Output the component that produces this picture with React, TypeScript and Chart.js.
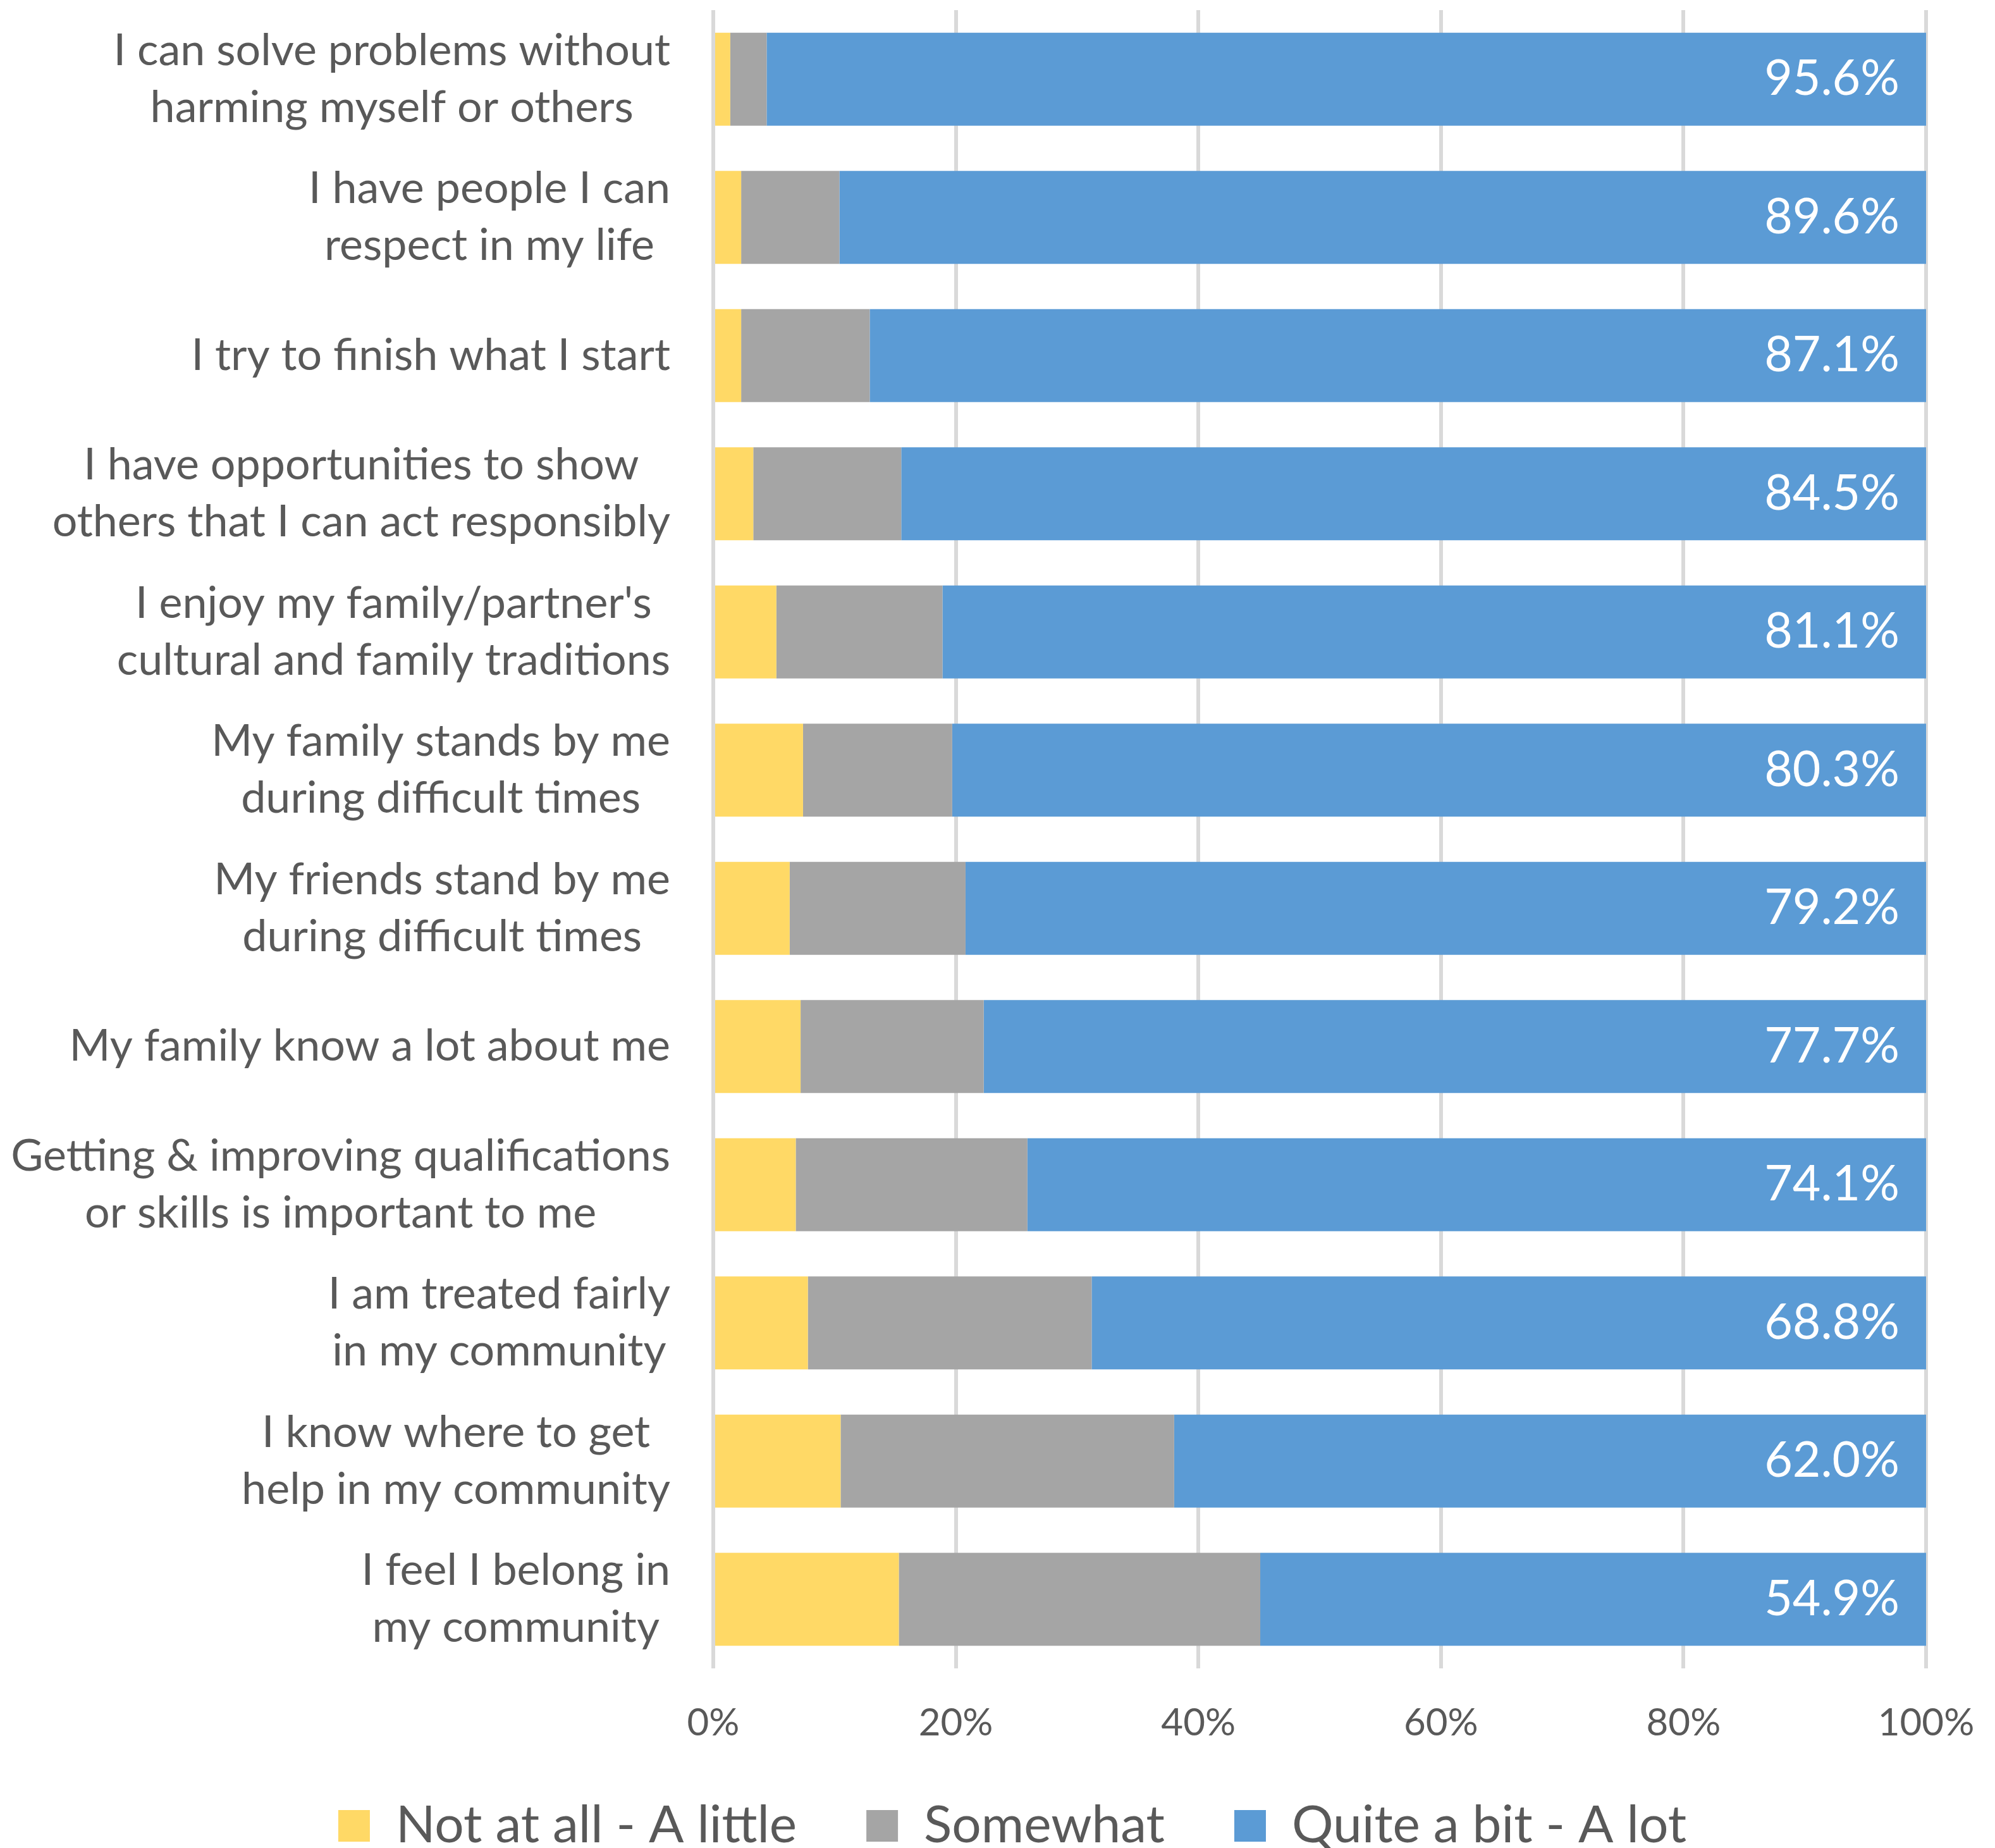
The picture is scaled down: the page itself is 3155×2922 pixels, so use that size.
import React, { useEffect, useRef } from 'react';
import { Chart, registerables } from 'chart.js';

Chart.register(...registerables);

const categories: string[][] = [
  ['I can solve problems without', 'harming myself or others'],
  ['I have people I can', 'respect in my life'],
  ['I try to finish what I start'],
  ['I have opportunities to show', 'others that I can act responsibly'],
  ["I enjoy my family/partner's", 'cultural and family traditions'],
  ['My family stands by me', 'during difficult times'],
  ['My friends stand by me', 'during difficult times'],
  ['My family know a lot about me'],
  ['Getting & improving qualifications', 'or skills is important to me'],
  ['I am treated fairly', 'in my community'],
  ['I know where to get', 'help in my community'],
  ['I feel I belong in', 'my community'],
];

const notAtAll = [1.4, 2.3, 2.3, 3.3, 5.2, 7.4, 6.3, 7.2, 6.8, 7.8, 10.5, 15.3];
const somewhat = [3.0, 8.1, 10.6, 12.2, 13.7, 12.3, 14.5, 15.1, 19.1, 23.4, 27.5, 29.8];
const quiteABit = [95.6, 89.6, 87.1, 84.5, 81.1, 80.3, 79.2, 77.7, 74.1, 68.8, 62.0, 54.9];

const seriesNames = ['Not at all - A little', 'Somewhat', 'Quite a bit - A lot'];
const seriesColors = ['#FFD966', '#A5A5A5', '#5B9BD5'];
const xTicks = [0, 20, 40, 60, 80, 100];

const FONT = 'Lato';
const TEXT_COLOR = '#595959';
const LABEL_SIZE = 70;
const VALUE_SIZE = 77;
const TICK_SIZE = 60;
const LEGEND_SIZE = 82;
const LEGEND_PAD = 110;

const W = 3155;
const H = 2922;
const PAD_LEFT = 156;
const PAD_RIGHT = 109;
const PAD_TOP = 16;
const PLOT_LEFT = 1128;
const PLOT_BOTTOM = 2638;
const TICK_CENTER_Y = 2725;
const LEGEND_CENTER_Y = 2887;
const LEGEND_H = H - LEGEND_CENTER_Y + LEGEND_PAD + LEGEND_SIZE / 2;
const TICK_LINE_H = TICK_SIZE * 1.2;

const categoryLabelPlugin = {
  id: 'categoryLabels',
  afterDraw(chart: any) {
    const yScale = chart.scales.y;
    const ctx = chart.ctx as CanvasRenderingContext2D;
    ctx.save();
    ctx.font = `${LABEL_SIZE}px ${FONT}`;
    ctx.fillStyle = TEXT_COLOR;
    ctx.textAlign = 'center';
    ctx.textBaseline = 'middle';
    const right = chart.chartArea.left - 68;
    const lh = 90;
    (chart.data.labels as string[][]).forEach((lines, i) => {
      const y = yScale.getPixelForTick(i);
      const w = Math.max(...lines.map((l) => ctx.measureText(l).width));
      const cx = right - w / 2;
      lines.forEach((l, j) => {
        ctx.fillText(l, cx, y + (j - (lines.length - 1) / 2) * lh);
      });
    });
    ctx.restore();
  },
};

const valueLabelPlugin = {
  id: 'valueLabels',
  afterDatasetsDraw(chart: any) {
    const ctx = chart.ctx as CanvasRenderingContext2D;
    const meta = chart.getDatasetMeta(2);
    const values = chart.data.datasets[2].data as number[];
    ctx.save();
    ctx.font = `${VALUE_SIZE}px ${FONT}`;
    ctx.fillStyle = '#FFFFFF';
    ctx.textAlign = 'right';
    ctx.textBaseline = 'middle';
    meta.data.forEach((bar: any, i: number) => {
      ctx.fillText(values[i].toFixed(1) + '%', bar.x - 42, bar.y);
    });
    ctx.restore();
  },
};

export default function App() {
  const ref = useRef<HTMLCanvasElement | null>(null);

  useEffect(() => {
    if (!ref.current) return;
    Chart.defaults.font.family = FONT;
    const chart = new Chart(ref.current, {
      type: 'bar',
      data: {
        labels: categories,
        datasets: [
          { label: seriesNames[0], data: notAtAll, backgroundColor: seriesColors[0], borderWidth: 0 },
          { label: seriesNames[1], data: somewhat, backgroundColor: seriesColors[1], borderWidth: 0 },
          { label: seriesNames[2], data: quiteABit, backgroundColor: seriesColors[2], borderWidth: 0 },
        ],
      },
      options: {
        indexAxis: 'y',
        responsive: false,
        animation: false,
        devicePixelRatio: 1,
        layout: { padding: { left: PAD_LEFT, right: PAD_RIGHT, top: PAD_TOP, bottom: 0 } },
        datasets: { bar: { categoryPercentage: 1, barPercentage: 0.673 } },
        scales: {
          x: {
            stacked: true,
            min: 0,
            max: 100,
            afterBuildTicks: (scale: any) => {
              scale.ticks = xTicks.map((v) => ({ value: v }));
            },
            afterFit: (scale: any) => {
              scale.height = H - LEGEND_H - PLOT_BOTTOM;
              scale.paddingLeft = 0;
              scale.paddingRight = 0;
            },
            grid: { color: '#D9D9D9', lineWidth: 6, drawTicks: false },
            border: { display: false },
            ticks: {
              mirror: true,
              padding: -(TICK_CENTER_Y - PLOT_BOTTOM + TICK_LINE_H / 2),
              color: TEXT_COLOR,
              font: { size: TICK_SIZE, family: FONT, lineHeight: 1.2 },
              callback: (v: any) => v + '%',
            },
          },
          y: {
            stacked: true,
            afterFit: (scale: any) => {
              scale.width = PLOT_LEFT - PAD_LEFT;
            },
            grid: { display: false, drawTicks: false },
            border: { display: false },
            ticks: { display: false },
          },
        },
        plugins: {
          tooltip: { enabled: false },
          legend: {
            position: 'bottom',
            maxHeight: LEGEND_H,
            labels: {
              boxWidth: 50,
              boxHeight: 50,
              padding: LEGEND_PAD,
              color: TEXT_COLOR,
              font: { size: LEGEND_SIZE, family: FONT },
            },
          },
        },
      },
      plugins: [categoryLabelPlugin, valueLabelPlugin],
    } as any);
    return () => chart.destroy();
  }, []);

  return (
    <div style={{ position: 'absolute', left: 0, top: 0, width: W, height: H, background: '#FFFFFF' }}>
      <canvas ref={ref} width={W} height={H} style={{ width: W, height: H, display: 'block' }} />
    </div>
  );
}
